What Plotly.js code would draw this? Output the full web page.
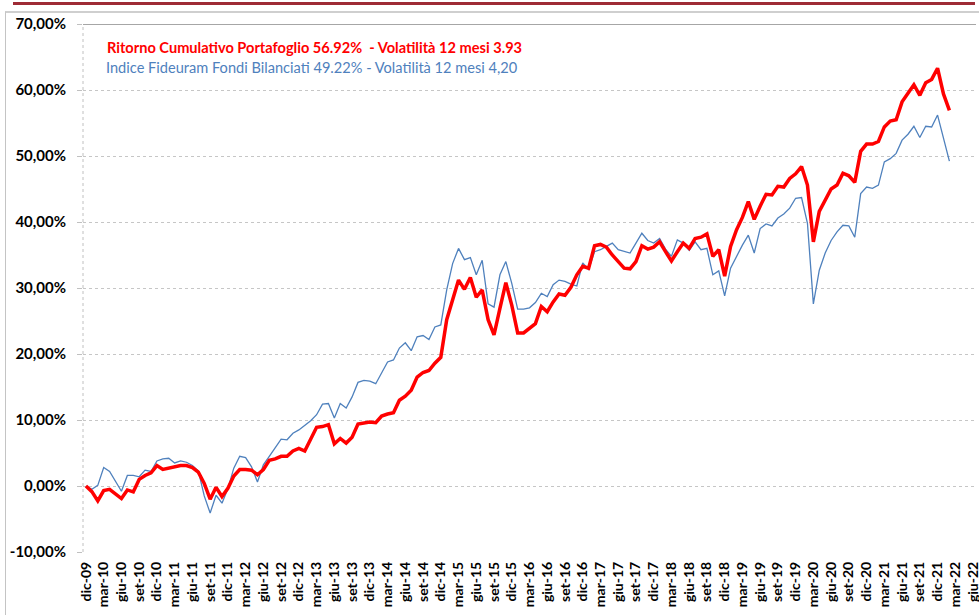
<!DOCTYPE html>
<html>
<head>
<meta charset="utf-8">
<script src="https://cdn.plot.ly/plotly-3.0.1.min.js"></script>
<style>
  html, body { margin: 0; padding: 0; background: #ffffff; }
  #wrap { position: relative; width: 979px; height: 615px; overflow: hidden; }
  #redbar { position: absolute; left: 13px; top: 2px; width: 962px; height: 3px; background: #9e2b35; }
  #frame { position: absolute; left: 5px; top: 11px; width: 990px; height: 700px; border-top: 2px solid #cfcfcf; border-left: 1px solid #c4c4c4; }
  #chart { position: absolute; left: 0; top: 0; width: 979px; height: 615px; }
</style>
</head>
<body>
<div id="wrap">
  <div id="redbar"></div>
  <div id="frame"></div>
  <div id="chart"></div>
</div>
<script>
// Categories (monthly, dic-09 .. giu-22)
const categories = [
  "dic-09",
  "gen-10","feb-10","mar-10","apr-10","mag-10","giu-10","lug-10","ago-10","set-10","ott-10","nov-10","dic-10",
  "gen-11","feb-11","mar-11","apr-11","mag-11","giu-11","lug-11","ago-11","set-11","ott-11","nov-11","dic-11",
  "gen-12","feb-12","mar-12","apr-12","mag-12","giu-12","lug-12","ago-12","set-12","ott-12","nov-12","dic-12",
  "gen-13","feb-13","mar-13","apr-13","mag-13","giu-13","lug-13","ago-13","set-13","ott-13","nov-13","dic-13",
  "gen-14","feb-14","mar-14","apr-14","mag-14","giu-14","lug-14","ago-14","set-14","ott-14","nov-14","dic-14",
  "gen-15","feb-15","mar-15","apr-15","mag-15","giu-15","lug-15","ago-15","set-15","ott-15","nov-15","dic-15",
  "gen-16","feb-16","mar-16","apr-16","mag-16","giu-16","lug-16","ago-16","set-16","ott-16","nov-16","dic-16",
  "gen-17","feb-17","mar-17","apr-17","mag-17","giu-17","lug-17","ago-17","set-17","ott-17","nov-17","dic-17",
  "gen-18","feb-18","mar-18","apr-18","mag-18","giu-18","lug-18","ago-18","set-18","ott-18","nov-18","dic-18",
  "gen-19","feb-19","mar-19","apr-19","mag-19","giu-19","lug-19","ago-19","set-19","ott-19","nov-19","dic-19",
  "gen-20","feb-20","mar-20","apr-20","mag-20","giu-20","lug-20","ago-20","set-20","ott-20","nov-20","dic-20",
  "gen-21","feb-21","mar-21","apr-21","mag-21","giu-21","lug-21","ago-21","set-21","ott-21","nov-21","dic-21",
  "gen-22","feb-22","mar-22","apr-22","mag-22","giu-22"
];

// Tick labels shown on the x axis (quarterly)
const tickLabels = [
  "dic-09","mar-10","giu-10","set-10","dic-10","mar-11","giu-11","set-11","dic-11",
  "mar-12","giu-12","set-12","dic-12","mar-13","giu-13","set-13","dic-13",
  "mar-14","giu-14","set-14","dic-14","mar-15","giu-15","set-15","dic-15",
  "mar-16","giu-16","set-16","dic-16","mar-17","giu-17","set-17","dic-17",
  "mar-18","giu-18","set-18","dic-18","mar-19","giu-19","set-19","dic-19",
  "mar-20","giu-20","set-20","dic-20","mar-21","giu-21","set-21","dic-21",
  "mar-22","giu-22"
];

// Y axis ticks
const yTickVals = [-10, 0, 10, 20, 30, 40, 50, 60, 70];
const yTickText = ["-10,00%", "0,00%", "10,00%", "20,00%", "30,00%", "40,00%", "50,00%", "60,00%", "70,00%"];

// Ritorno Cumulativo Portafoglio (%), dic-09 .. feb-22
const portafoglio = [
  0, -0.86, -2.27, -0.7, -0.5, -1.2, -1.9, -0.6, -0.9, 1.0, 1.6, 2.0, 3.1,
  2.5, 2.7, 2.9, 3.1, 3.1, 2.8, 2.1, 0.4, -2.0, -0.2, -1.6, -0.35,
  1.5, 2.5, 2.5, 2.4, 1.7, 2.5, 3.9, 4.1, 4.5, 4.5, 5.3, 5.7,
  5.3, 7.2, 8.9, 9.0, 9.3, 6.4, 7.2, 6.5, 7.4, 9.4, 9.5, 9.7,
  9.6, 10.6, 10.9, 11.1, 13.0, 13.6, 14.5, 16.5, 17.2, 17.5, 18.6, 19.5,
  25.2, 28.2, 31.2, 29.8, 31.6, 28.6, 29.7, 25.2, 22.9, 26.9, 30.8, 27.4,
  23.2, 23.2, 23.9, 24.6, 27.2, 26.4, 27.9, 29.1, 28.9, 30.1, 32.0, 33.3,
  33.0, 36.4, 36.6, 36.2, 35.0, 34.0, 33.0, 32.9, 34.0, 36.4, 35.9, 36.2,
  37.0, 35.5, 34.1, 35.5, 36.8, 36.0, 37.5, 37.7, 38.2, 34.8, 35.8, 31.8,
  36.3, 38.8, 40.7, 43.1, 40.4, 42.4, 44.2, 44.1, 45.4, 45.3, 46.6, 47.3,
  48.4, 45.6, 37.0, 41.6, 43.3, 45.0, 45.6, 47.4, 47.0, 46.0, 50.7, 51.8,
  51.8, 52.2, 54.4, 55.3, 55.5, 58.2, 59.5, 60.8, 59.2, 61.1, 61.6, 63.3,
  59.4, 56.92
];

// Indice Fideuram Fondi Bilanciati (%), dic-09 .. feb-22
const indice = [
  0, -0.5, 0.1, 2.8, 2.2, 0.65, -0.8, 1.6, 1.6, 1.4, 2.4, 2.2, 3.8,
  4.1, 4.2, 3.5, 3.8, 3.6, 3.1, 2.3, -1.5, -4.1, -1.4, -2.6, -0.4,
  2.7, 4.5, 4.3, 2.9, 0.6, 3.2, 4.5, 5.9, 7.1, 7.0, 8.0, 8.5,
  9.2, 9.9, 10.8, 12.4, 12.5, 10.3, 12.5, 11.8, 13.5, 15.7, 16.0, 15.9,
  15.5, 17.1, 18.8, 19.1, 20.9, 21.7, 20.5, 22.6, 22.8, 22.2, 24.1, 24.4,
  29.7, 33.7, 36.0, 34.3, 34.6, 32.0, 34.2, 27.6, 27.1, 32.0, 34.0, 30.7,
  26.8, 26.8, 27.0, 27.8, 29.2, 28.7, 30.5, 31.2, 31.0, 30.6, 30.3, 33.8,
  32.8, 35.5, 35.8, 36.3, 36.8, 35.8, 35.5, 35.3, 36.8, 38.3, 37.2, 36.8,
  37.5, 35.9, 34.8, 37.3, 36.8, 35.7, 37.0, 35.8, 36.0, 32.0, 32.6, 28.8,
  33.0, 34.8, 36.5, 38.0, 35.3, 39.0, 39.7, 39.4, 40.6, 41.2, 42.1, 43.6,
  43.7, 39.8, 27.6, 32.7, 35.3, 37.2, 38.5, 39.5, 39.4, 37.7, 44.3, 45.3,
  45.1, 45.6, 49.1, 49.6, 50.4, 52.4, 53.3, 54.5, 52.8, 54.5, 54.4, 56.2,
  52.8, 49.22
];

const legendRed = "Ritorno Cumulativo Portafoglio 56.92%&nbsp; - Volatilità 12 mesi 3.93";
const legendBlue = "Indice Fideuram Fondi Bilanciati 49.22% - Volatilità 12 mesi 4,20";

const xPort = categories.slice(0, portafoglio.length);
const xInd = categories.slice(0, indice.length);

const FONT = 'Lato, "Liberation Sans", sans-serif';

const traces = [
  {
    x: xInd, y: indice, type: 'scatter', mode: 'lines',
    line: { color: '#4f81bd', width: 1.3 },
    name: 'Indice Fideuram Fondi Bilanciati', hoverinfo: 'x+y'
  },
  {
    x: xPort, y: portafoglio, type: 'scatter', mode: 'lines',
    line: { color: '#ff0000', width: 3.5 },
    name: 'Ritorno Cumulativo Portafoglio', hoverinfo: 'x+y'
  }
];

const layout = {
  width: 979, height: 615,
  margin: { l: 83, r: 3, t: 24, b: 63 },
  paper_bgcolor: 'rgba(0,0,0,0)',
  plot_bgcolor: 'rgba(0,0,0,0)',
  showlegend: false,
  xaxis: {
    type: 'category',
    categoryorder: 'array',
    categoryarray: categories,
    range: [-0.5, categories.length - 0.5],
    tickmode: 'array',
    tickvals: tickLabels,
    ticktext: tickLabels,
    tickangle: -90,
    tickfont: { family: FONT, size: 14, color: '#000000', weight: 'bold' },
    showgrid: false,
    zeroline: false,
    showline: false,
    ticks: '',
    ticklabelstandoff: 6,
    fixedrange: true
  },
  yaxis: {
    range: [-10, 70],
    tickmode: 'array',
    tickvals: yTickVals,
    ticktext: yTickText,
    tickfont: { family: FONT, size: 15, color: '#000000', weight: 'bold' },
    showgrid: true,
    gridcolor: '#c6c6c6',
    griddash: 'dot',
    gridwidth: 1,
    zeroline: false,
    showline: false,
    ticks: 'outside',
    ticklen: 5,
    tickcolor: '#c0c0c0',
    ticklabelstandoff: 8,
    fixedrange: true
  },
  shapes: [
    { type: 'line', xref: 'paper', yref: 'y', x0: 0, x1: 1, y0: 70, y1: 70,
      line: { color: '#a6a6a6', width: 2 } },
    { type: 'line', xref: 'paper', yref: 'paper', x0: 0, x1: 0, y0: 0, y1: 1,
      line: { color: '#c0c0c0', width: 1, dash: 'dot' } }
  ],
  annotations: [
    { xref: 'paper', yref: 'paper', x: 0.0246, y: 0.9555, xanchor: 'left', yanchor: 'middle',
      showarrow: false, text: legendRed,
      font: { family: FONT, size: 14.6, color: '#ff0000', weight: 'bold' } },
    { xref: 'paper', yref: 'paper', x: 0.0235, y: 0.9176, xanchor: 'left', yanchor: 'middle',
      showarrow: false, text: legendBlue,
      font: { family: FONT, size: 14.6, color: '#4f81bd' } }
  ]
};

Plotly.newPlot('chart', traces, layout, { displayModeBar: false, staticPlot: true });
</script>
</body>
</html>
